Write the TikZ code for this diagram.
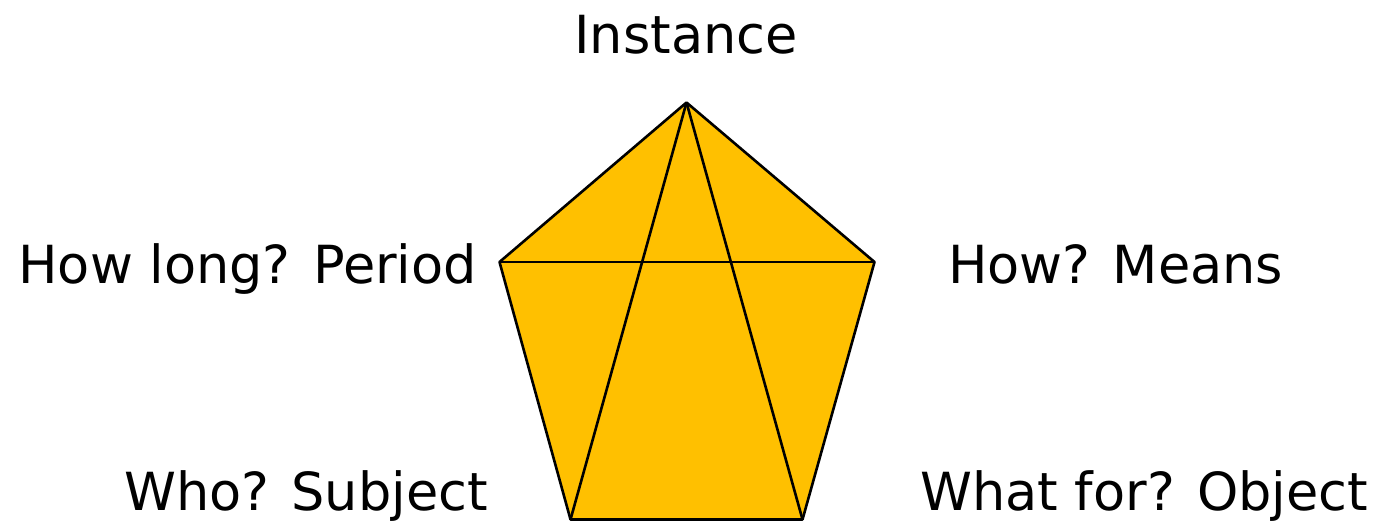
\documentclass[tikz,border=0pt]{standalone}
\usepackage{fontspec}
\setmainfont{DejaVu Sans}
\definecolor{gold}{HTML}{FFC000}
\begin{document}
\begin{tikzpicture}[x=1pt,y=-1pt,
  lbl/.style={inner sep=0pt,font=\fontsize{52.5}{60}\selectfont},
  edge/.style={line width=2.6pt,line join=round,black}]
\useasboundingbox (0,0) rectangle (1383,522);
\coordinate (T) at (686.5,102.5);
\coordinate (L) at (499.5,262);
\coordinate (R) at (874.5,262);
\coordinate (BL) at (570.5,519.5);
\coordinate (BR) at (802.5,519.5);
\fill[gold] (T) -- (R) -- (BR) -- (BL) -- (L) -- cycle;
\draw[edge] (T) -- (R) -- (BR) -- (BL) -- (L) -- cycle;
\draw[edge] (T) -- (BL);
\draw[edge] (T) -- (BR);
\draw[edge] (L) -- (R);
\node[lbl,anchor=base] (inst) at (686,53) {Instance};
\node[lbl,anchor=base east] (period) at (477,283) {How long? Period};
\node[lbl,anchor=base west] (means) at (948,283) {How? Means};
\node[lbl,anchor=base east] (subj) at (488,510) {Who? Subject};
\node[lbl,anchor=base west] (obj) at (920,510) {What for? Object};
\end{tikzpicture}
\end{document}
